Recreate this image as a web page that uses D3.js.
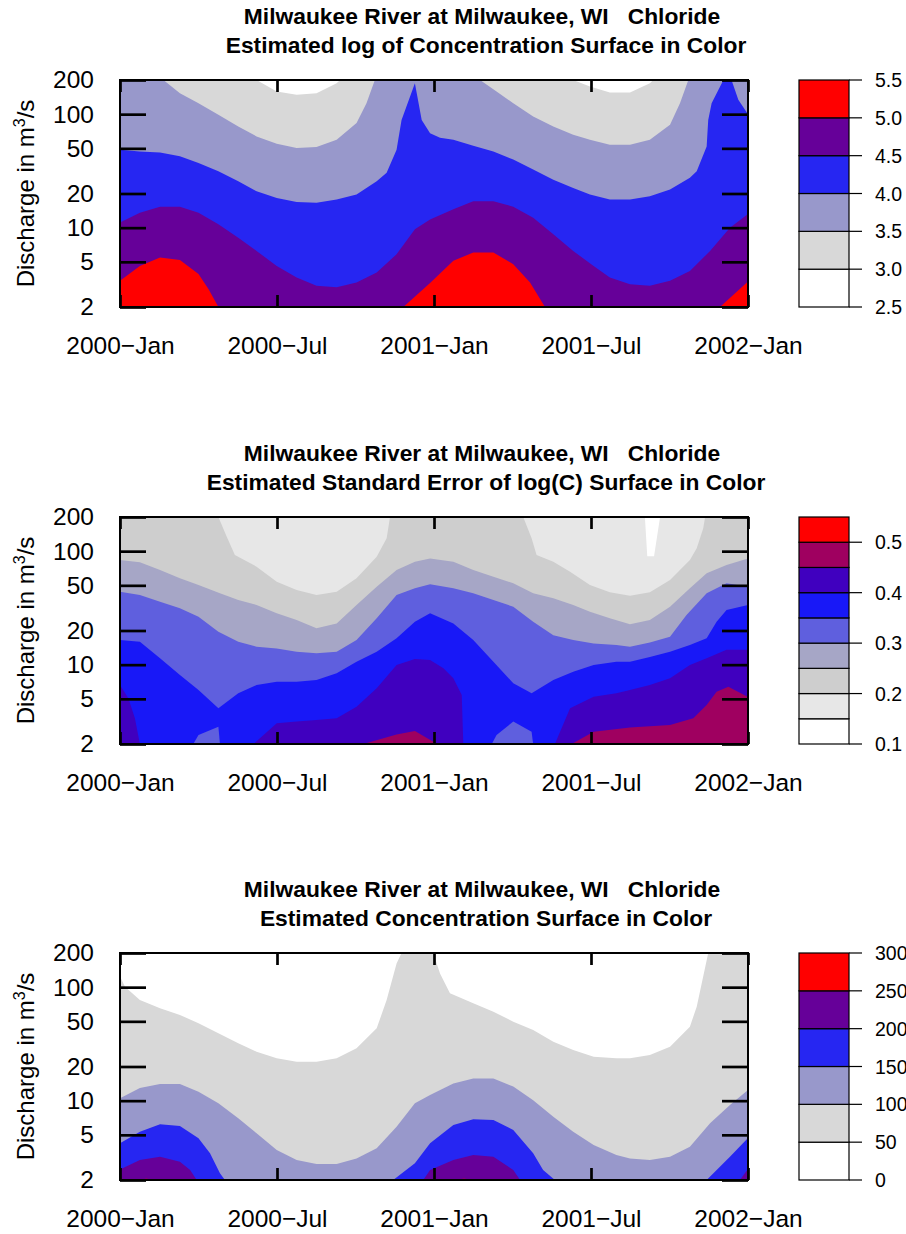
<!DOCTYPE html>
<html>
<head>
<meta charset="utf-8">
<script src="https://cdn.jsdelivr.net/npm/d3@7"></script>
<style>
  body { margin: 0; background: #fff; }
  svg { display: block; font-family: "Liberation Sans", Arial, Helvetica, sans-serif; }
</style>
</head>
<body>
<div id="chart"></div>
<script>
let width = 906;
let height = 1234;
let plotLeft = 120, plotRight = 748, plotHeight = 227;
let legendLeft = 799, legendRight = 849;
let axisFont = 24.5, yTitleFont = 24, legendFont = 19.5, titleFont = 22.8;

// x is months since 2000-Jan, y is discharge in m3/s
const xTickMonths = [0, 6, 12, 18, 24];
const xTickLabels = ["2000\u2212Jan", "2000\u2212Jul", "2001\u2212Jan", "2001\u2212Jul", "2002\u2212Jan"];
const yTicks = [2, 5, 10, 20, 50, 100, 200];
const stationTitle = "Milwaukee River at Milwaukee, WI   Chloride";

const colors6 = ["#FFFFFF", "#D8D8D8", "#9898CB", "#2626F2", "#660099", "#FF0000"];
const colors9 = ["#FFFFFF", "#E7E7E7", "#CECECE", "#A6A6C6", "#5F5FDE", "#1818F7", "#4000BF", "#9F0060", "#FF0000"];

// ---- panel 1: log of concentration, contour boundaries [month, Q]
const logLevels = [2.5, 3, 3.5, 4, 4.5, 5, 5.5];
const logC30 = [[0,400],[4.8,260],[5.22,200],[5.99,158],[6.75,148],[7.51,153],[8.28,187],[8.41,200],[8.9,260],[12,400],[16.9,260],[17.32,200],[17.96,175],[18.72,155],[19.49,155],[20.25,187],[20.38,200],[20.8,260],[24,400]];
const logC35 = [[0,300],[1.3,250],[1.66,200],[2.29,153],[3.0,125],[3.76,98.6],[4.52,77.9],[5.22,63.7],[5.99,55],[6.75,50.3],[7.51,51.4],[8.28,59.6],[9.04,83.4],[9.42,125],[9.74,200],[10.1,250],[13.4,250],[13.76,200],[14.39,158],[15.03,125],[15.79,95.3],[16.56,77.9],[17.32,65.9],[17.96,59.6],[18.72,53.8],[19.49,53.8],[20.25,59.6],[21.02,80.6],[21.4,125],[21.72,200],[22.1,250],[24,300]];
const logC40 = [[0,48.6],[0.76,47],[1.53,46],[2.29,42.5],[3.0,37.2],[3.76,31.4],[4.52,25.6],[5.22,20.9],[5.99,18.3],[6.75,16.8],[7.51,16.6],[8.28,17.7],[9.04,19.6],[9.81,25.6],[10.19,30.4],[10.57,48.6],[10.76,89],[11.27,187],[11.53,89],[11.85,68],[12.23,62],[12.74,59.6],[13.5,52.7],[14.27,47],[15.03,39.8],[15.79,32.5],[16.56,26.5],[17.32,22.4],[17.96,19.6],[18.72,17.7],[19.49,17.7],[20.25,18.9],[21.02,21.7],[21.78,27.5],[22.04,31.4],[22.42,52],[22.48,89],[22.61,125],[23.06,200],[23.2,230],[23.37,200],[23.63,134],[24,100]];
const logC45 = [[0,11.1],[0.76,13.5],[1.53,15.3],[2.29,15.3],[3.0,13.5],[3.76,10.7],[4.52,8.17],[5.22,6.23],[5.99,4.6],[6.75,3.64],[7.51,3.08],[8.28,2.98],[9.04,3.29],[9.81,4.03],[10.57,5.83],[11.27,9.66],[11.85,11.8],[12.74,14.5],[13.5,17.1],[14.27,17.1],[15.03,15.3],[15.79,12.2],[16.56,8.73],[17.32,6.23],[18.1,4.6],[18.72,3.64],[19.49,3.18],[20.25,3.08],[21.02,3.4],[21.78,4.16],[22.55,6.23],[23.31,10],[24,13.2]];
const logC50 = [[0,3.4],[0.76,4.6],[1.53,5.46],[2.29,5.2],[3.0,3.9],[3.38,2.88],[3.76,2.0],[4.2,1.6],[10.4,1.6],[10.83,2.0],[11.85,3.25],[12.74,5.1],[13.5,6.04],[14.27,6.04],[15.03,4.77],[15.67,3.29],[16.24,2.0],[16.6,1.6],[22.6,1.6],[22.93,2.0],[24,3.35]];

// ---- panel 2: standard error of log(C)
const seLevels = [0.1, 0.15, 0.2, 0.25, 0.3, 0.35, 0.4, 0.45, 0.5, 0.55];
const seTicks = [0.1, 0.2, 0.3, 0.4, 0.5];
const se15 = [[0,400],[19.8,300],[20.06,200],[20.15,90],[20.41,90],[20.64,200],[20.9,300],[24,400]];
const se20 = [[0,400],[3.4,260],[3.76,200],[4.08,134],[4.39,92.5],[5.22,73],[5.99,53.8],[6.75,45.5],[7.51,41.1],[8.28,44],[9.04,57.7],[9.81,89.4],[10.19,130],[10.32,200],[10.7,280],[15.0,280],[15.41,200],[15.73,130],[15.92,92.5],[16.56,80.8],[17.2,66],[17.96,50.4],[18.72,43.4],[19.49,40.5],[20.25,43.4],[21.02,55.7],[21.78,83.6],[22.04,106],[22.29,159],[22.36,200],[22.7,280],[24,400]];
const se25 = [[0,83.6],[0.76,79.8],[1.53,68.2],[2.29,57.7],[3.0,50.4],[3.82,42.5],[4.52,37.1],[5.22,33.6],[5.99,28.4],[6.75,24.8],[7.51,20.9],[8.28,23.1],[9.04,33.6],[9.81,48.6],[10.57,68.2],[11.27,80.8],[11.85,86],[12.74,80.8],[13.5,68.2],[14.27,59.6],[15.03,52.1],[15.79,42.5],[16.56,38.4],[17.32,33.6],[17.96,29.3],[18.72,25.6],[19.49,22.7],[20.25,24.8],[21.02,32.4],[21.78,47.1],[22.42,63.8],[23.18,75.5],[24,86]];
const se30 = [[0,44],[0.76,41.1],[1.53,35.9],[2.29,31.4],[3.0,26.5],[3.76,19.5],[4.52,15.9],[5.22,14.4],[5.99,13.9],[6.75,13],[7.51,12.6],[8.28,13],[9.04,16.5],[9.81,25.6],[10.57,41.1],[11.27,47.1],[11.85,51],[12.74,47.1],[13.5,42.5],[14.27,37.1],[15.03,32.4],[15.79,23.9],[16.56,18.2],[17.32,16.5],[18.1,15.4],[18.97,14.9],[19.49,14.4],[20.25,15.7],[21.02,17.6],[21.65,27.4],[22.42,42.5],[23.18,52.1],[24,48.6]];
const se35 = [[0,16.5],[0.76,15.9],[1.53,11.4],[2.29,8.1],[3.0,5.98],[3.76,4.13],[4.52,5.6],[5.22,6.62],[5.99,7.08],[6.75,7.08],[7.51,7.33],[8.28,8.39],[9.04,10.6],[9.81,13],[10.57,17.1],[11.27,23.9],[11.85,28.4],[12.74,23.1],[13.5,16.5],[14.27,10.6],[15.03,6.85],[15.73,5.6],[16.56,7.33],[17.32,8.67],[18.1,9.93],[18.97,10.6],[19.49,10.6],[20.25,11.7],[21.02,13],[21.78,14.9],[22.42,17.1],[22.8,23.9],[23.18,30.3],[24,33.6]];
const se35PocketA = [[2.8,1.6],[2.8,2],[3.0,2.4],[3.76,2.84],[3.82,2],[3.82,1.6]];
const se35PocketB = [[14.21,1.6],[14.21,2],[14.39,2.4],[15.03,3.15],[15.73,2.57],[15.79,2],[15.79,1.6]];
const se40 = [[0,6.62],[0.32,5.05],[0.57,3.37],[0.76,2],[1.0,1.6],[4.8,1.6],[5.1,2],[5.99,3.04],[6.75,3.15],[7.51,3.25],[8.28,3.37],[9.04,4.26],[9.81,6.19],[10.57,9.93],[11.27,11.2],[11.85,11],[12.36,9.29],[12.74,7.58],[13.06,5.4],[13.12,2],[13.2,1.6],[16.4,1.6],[16.62,2],[17.2,4.13],[18.1,5.22],[18.97,5.6],[19.49,5.98],[20.25,6.62],[21.02,7.58],[21.78,9.93],[22.42,11.4],[23.18,13.5],[24,13.5]];
const se45 = [[0,1.6],[9.0,1.6],[9.3,2],[10.57,2.43],[11.27,2.6],[12.04,2.05],[12.3,1.6],[17.0,1.6],[17.26,2],[18.1,2.57],[19.49,2.79],[21.02,2.94],[21.91,3.37],[22.42,4.41],[22.8,5.78],[23.25,6.4],[24,5.2]];

// ---- panel 3: concentration in mg/L
const concLevels = [0, 50, 100, 150, 200, 250, 300];
const conc50 = [[0,124],[0.19,101],[0.76,77.1],[1.53,65.2],[2.29,56.9],[3.0,48.1],[3.76,39.2],[4.52,32],[5.22,27],[5.99,23.6],[6.75,22],[7.51,22],[8.28,23.6],[9.04,28.9],[9.81,43.4],[10.19,77.1],[10.57,162],[10.76,200],[11.0,260],[11.7,260],[11.97,200],[12.23,132],[12.61,88.3],[13.5,72.1],[14.27,60.8],[15.03,49.7],[15.79,42],[16.56,33.1],[17.32,27.9],[18.1,24.4],[18.97,23.6],[19.49,23.6],[20.25,25.3],[21.02,29.9],[21.78,44.9],[22.04,67.3],[22.48,200],[22.8,260],[24,300]];
const conc100 = [[0,10.5],[0.76,12.9],[1.53,14],[2.29,14],[3.0,12],[3.76,9.48],[4.52,7],[5.22,5.16],[5.99,3.67],[6.75,3.0],[7.51,2.77],[8.28,2.77],[9.04,3.1],[9.81,3.8],[10.57,5.9],[11.27,9.48],[11.85,11.2],[12.74,14.2],[13.5,15.7],[14.27,15.7],[15.03,13.3],[15.79,10.1],[16.56,7.22],[17.32,5.33],[18.1,4.07],[18.97,3.32],[19.49,3.1],[20.25,3.0],[21.02,3.21],[21.78,3.93],[22.55,6.32],[23.31,9.16],[24,12.4]];
const conc150 = [[0,4.21],[0.76,5.33],[1.53,6.19],[2.29,5.98],[3.0,4.66],[3.44,3.44],[3.82,2.29],[4.01,2],[4.3,1.6],[10.1,1.6],[10.44,2],[11.27,2.81],[11.85,4.21],[12.74,6.1],[13.5,6.85],[14.27,6.76],[15.03,5.52],[15.79,3.44],[16.17,2.45],[16.62,2],[16.9,1.6],[22.1,1.6],[22.42,2],[23.31,3.21],[24,4.7]];
const conc200 = [[0,2.48],[0.76,3.0],[1.53,3.21],[2.29,2.9],[2.68,2.45],[2.93,2],[3.2,1.6],[11.3,1.6],[11.59,2],[11.85,2.45],[12.74,3.0],[13.5,3.32],[14.27,3.21],[15.03,2.45],[15.29,2],[15.6,1.6],[23.4,1.6],[23.69,2],[24,2.5]];
const conc250 = [[0,1.7],[0.3,1.9],[0.64,2],[1.0,2.05],[1.41,2],[1.8,1.9],[2.5,1.7],[12.0,1.7],[12.4,1.9],[12.7,2],[13.15,2.05],[13.6,2],[14.0,1.9],[14.6,1.7],[24,1.7]];

let panels = [
    {
        top: 80,
        subtitle: "Estimated log of Concentration Surface in Color",
        levels: logLevels, colors: colors6, ticks: logLevels, fmt: d3.format(".1f"),
        bounds: [[3, logC30], [3.5, logC35], [4, logC40], [4.5, logC45], [5, logC50]],
        pockets: []
    },
    {
        top: 517,
        subtitle: "Estimated Standard Error of log(C) Surface in Color",
        levels: seLevels, colors: colors9, ticks: seTicks, fmt: d3.format(".1f"),
        bounds: [[0.15, se15], [0.2, se20], [0.25, se25], [0.3, se30], [0.35, se35], [0.4, se40], [0.45, se45]],
        pockets: [[0.35, se35PocketA], [0.35, se35PocketB]]
    },
    {
        top: 953,
        subtitle: "Estimated Concentration Surface in Color",
        levels: concLevels, colors: colors6, ticks: concLevels, fmt: d3.format("d"),
        bounds: [[50, conc50], [100, conc100], [150, conc150], [200, conc200], [250, conc250]],
        pockets: []
    }
];

const svg = d3.select("#chart").append("svg")
    .attr("width", width)
    .attr("height", height)
    .attr("viewBox", [0, 0, width, height]);

panels.forEach(drawPanel);

function drawPanel(p, i) {
    let top = p.top;
    let bottom = p.top + plotHeight;
    let x = d3.scaleLinear().domain([0, 24]).range([plotLeft, plotRight]);
    let y = d3.scaleLog().domain([2, 200]).range([bottom, top]);
    const g = svg.append("g");

    // titles
    g.append("text")
        .attr("x", 482).attr("y", top - 56)
        .attr("text-anchor", "middle")
        .attr("font-weight", "bold")
        .attr("font-size", titleFont)
        .style("white-space", "pre")
        .text(stationTitle);
    g.append("text")
        .attr("x", 486).attr("y", top - 27)
        .attr("text-anchor", "middle")
        .attr("font-weight", "bold")
        .attr("font-size", titleFont)
        .text(p.subtitle);

    // filled contour surface, painted from the highest band upward
    svg.append("clipPath").attr("id", "clip" + i)
        .append("rect")
        .attr("x", plotLeft).attr("y", top)
        .attr("width", plotRight - plotLeft).attr("height", plotHeight);
    const surface = g.append("g").attr("clip-path", `url(#clip${i})`);
    let bandBelow = level => p.colors[p.levels.indexOf(level) - 1];
    let maxLevel = d3.max(p.bounds, b => b[0]);
    surface.append("rect")
        .attr("x", plotLeft).attr("y", top)
        .attr("width", plotRight - plotLeft).attr("height", plotHeight)
        .attr("fill", p.colors[p.levels.indexOf(maxLevel)]);

    let area = d3.area()
        .x(d => x(d[0]))
        .y0(top - 5)
        .y1(d => y(d[1]));
    let line = d3.line()
        .x(d => x(d[0]))
        .y(d => y(d[1]));

    p.bounds.slice().sort((a, b) => b[0] - a[0]).forEach(([level, pts]) => {
        surface.append("path").datum(pts).attr("d", area).attr("fill", bandBelow(level));
        p.pockets.filter(pk => pk[0] === level).forEach(pk => {
            surface.append("path").datum(pk[1]).attr("d", line).attr("fill", bandBelow(level));
        });
    });

    // axes with inward ticks on all four sides
    let styleAxis = sel => {
        sel.select(".domain").remove();
        sel.selectAll(".tick line").attr("stroke", "#000").attr("stroke-width", 2.7);
        sel.selectAll(".tick text")
            .attr("fill", "#000")
            .attr("font-size", axisFont)
            .attr("font-family", "Liberation Sans, Arial, Helvetica, sans-serif");
    };
    g.append("g")
        .attr("transform", `translate(${plotLeft},0)`)
        .call(d3.axisLeft(y).tickValues(yTicks).tickFormat(d3.format("d")).tickSize(-26).tickPadding(26))
        .call(styleAxis);
    g.append("g")
        .attr("transform", `translate(${plotRight},0)`)
        .call(d3.axisRight(y).tickValues(yTicks).tickFormat("").tickSize(-26))
        .call(styleAxis);
    g.append("g")
        .attr("transform", `translate(0,${bottom})`)
        .call(d3.axisBottom(x).tickValues(xTickMonths).tickFormat((d, k) => xTickLabels[k]).tickSize(-12).tickPadding(30))
        .call(styleAxis);
    g.append("g")
        .attr("transform", `translate(0,${top})`)
        .call(d3.axisTop(x).tickValues(xTickMonths).tickFormat("").tickSize(-12))
        .call(styleAxis);

    g.append("rect")
        .attr("x", plotLeft).attr("y", top)
        .attr("width", plotRight - plotLeft).attr("height", plotHeight)
        .attr("fill", "none")
        .attr("stroke", "#000")
        .attr("stroke-width", 2);

    // y axis title, centred on the plot by its measured length
    const yTitle = g.append("text")
        .attr("text-anchor", "start")
        .attr("font-size", yTitleFont);
    yTitle.append("tspan").text("Discharge in m");
    yTitle.append("tspan").attr("dy", -9).attr("font-size", 16).text("3");
    yTitle.append("tspan").attr("dy", 9).text("/s");
    let titleLen = yTitle.node().getComputedTextLength();
    yTitle.attr("transform", `translate(34,${(top + bottom) / 2 + titleLen / 2}) rotate(-90)`);

    // colour key
    let ly = d3.scaleLinear()
        .domain([p.levels[0], p.levels[p.levels.length - 1]])
        .range([bottom, top]);
    const key = g.append("g");
    key.selectAll("rect")
        .data(p.colors)
        .join("rect")
        .attr("x", legendLeft)
        .attr("y", (c, k) => ly(p.levels[k + 1]))
        .attr("width", legendRight - legendLeft)
        .attr("height", (c, k) => ly(p.levels[k]) - ly(p.levels[k + 1]))
        .attr("fill", c => c)
        .attr("stroke", "#000")
        .attr("stroke-width", 1.2);
    key.selectAll("line")
        .data(p.ticks)
        .join("line")
        .attr("x1", legendRight).attr("x2", legendRight + 13)
        .attr("y1", d => ly(d)).attr("y2", d => ly(d))
        .attr("stroke", "#000")
        .attr("stroke-width", 1.2);
    key.selectAll("text")
        .data(p.ticks)
        .join("text")
        .attr("x", legendRight + 26)
        .attr("y", d => ly(d))
        .attr("dy", "0.36em")
        .attr("font-size", legendFont)
        .text(d => p.fmt(d));
}
</script>
</body>
</html>
